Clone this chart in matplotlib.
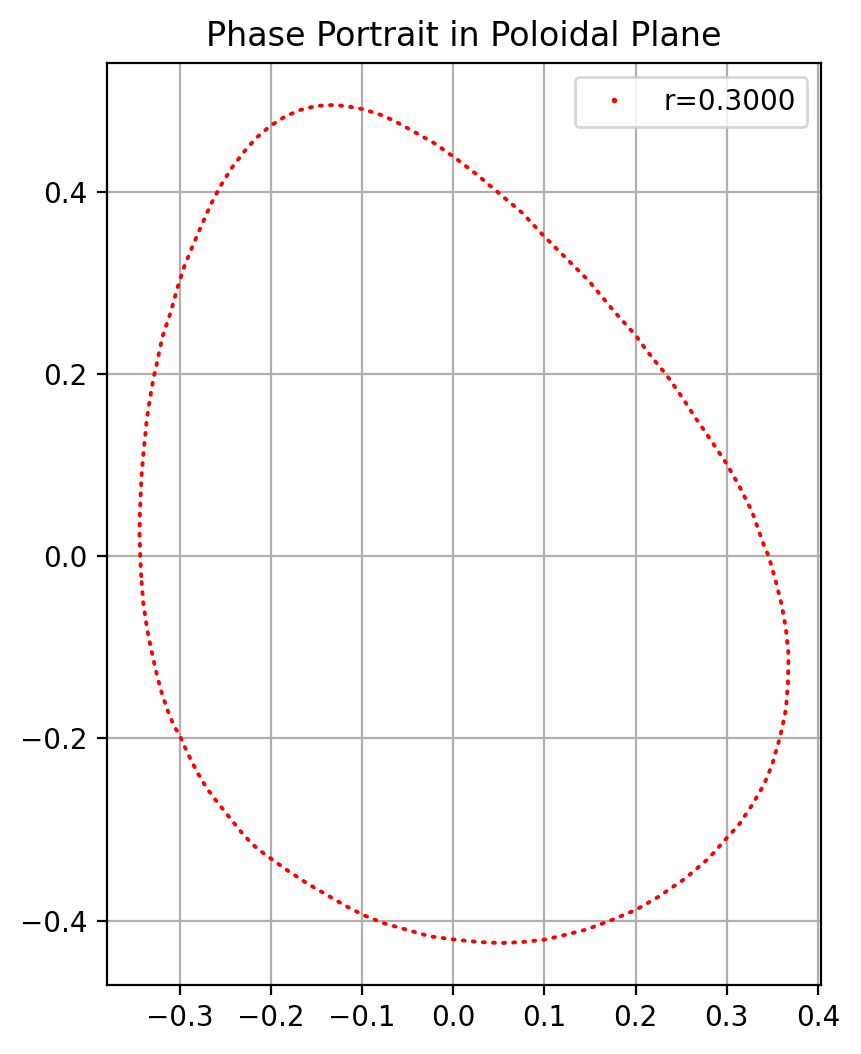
import numpy as np
import matplotlib
matplotlib.use("Agg")
import matplotlib.pyplot as plt
from matplotlib.lines import Line2D

# orbit points, going clockwise from the far left
x_left = [-0.3423, -0.3431, -0.3442, -0.3438, -0.3431, -0.3420, -0.3395, -0.3376,
          -0.3363, -0.3341, -0.3315, -0.3290, -0.3253, -0.3224, -0.3188, -0.3102,
          -0.3030, -0.2950, -0.2860, -0.2770, -0.2664, -0.2554, -0.2430, -0.2300,
          -0.2160, -0.2006, -0.1842, -0.1677, -0.1500, -0.1300, -0.1166, -0.1000]
y_left = [-0.0219, -0.0055, 0.0256, 0.0475, 0.0621, 0.0877, 0.1169, 0.1352,
          0.1494, 0.1640, 0.1800, 0.1947, 0.2104, 0.2250, 0.2414, 0.2667,
          0.2930, 0.3180, 0.3400, 0.3610, 0.3850, 0.4060, 0.4260, 0.4430,
          0.4590, 0.4720, 0.4825, 0.4895, 0.4940, 0.4950, 0.4935, 0.4906]

x_right = [-0.0800, -0.0656, -0.0437, -0.0200, 0.0036, 0.0273, 0.0504, 0.0759,
           0.0996, 0.1234, 0.1489, 0.1745, 0.2004, 0.2113, 0.2222, 0.2342,
           0.2451, 0.2550, 0.2648, 0.2732, 0.2912, 0.2996, 0.3131, 0.3277,
           0.3405, 0.3460, 0.3533, 0.3606, 0.3650, 0.3679, 0.3672, 0.3650,
           0.3606, 0.3569, 0.3496, 0.3405, 0.3277, 0.3131, 0.2996, 0.2803,
           0.2547, 0.2255, 0.2004, 0.1745, 0.1453, 0.1161, 0.0996, 0.0759,
           0.0522]
y_right = [0.4844, 0.4780, 0.4660, 0.4526, 0.4358, 0.4175, 0.3980, 0.3764,
           0.3510, 0.3273, 0.3018, 0.2709, 0.2418, 0.2268, 0.2130, 0.1984,
           0.1830, 0.1684, 0.1530, 0.1410, 0.1145, 0.1018, 0.0782, 0.0491,
           0.0127, 0.0000, -0.0255, -0.0546, -0.0800, -0.1090, -0.1384, -0.1676,
           -0.1894, -0.2040, -0.2295, -0.2514, -0.2732, -0.2951, -0.3097, -0.3315,
           -0.3534, -0.3734, -0.3880, -0.3989, -0.4098, -0.4171, -0.4208, -0.4233,
           -0.4244]

x_bottom = [0.0285, 0.0029, -0.0256, -0.0511, -0.0766, -0.0993, -0.1168, -0.1387,
            -0.1606, -0.1825, -0.2004, -0.2153, -0.2299, -0.2445, -0.2591, -0.2701,
            -0.2810, -0.2920, -0.3000, -0.3066, -0.3139, -0.3212, -0.3266, -0.3314,
            -0.3358, -0.3401, -0.3423]
y_bottom = [-0.4233, -0.4208, -0.4171, -0.4098, -0.4026, -0.3934, -0.3843, -0.3716,
            -0.3588, -0.3443, -0.3315, -0.3206, -0.3060, -0.2878, -0.2696, -0.2550,
            -0.2368, -0.2149, -0.1967, -0.1858, -0.1676, -0.1457, -0.1239, -0.1020,
            -0.0801, -0.0510, -0.0219]

r_label = 'r=0.3000'

x = np.array(x_left + x_right + x_bottom)
y = np.array(y_left + y_right + y_bottom)

fig = plt.figure(figsize=(4.305, 5.27), dpi=200)
ax = fig.add_axes([0.1243, 0.0645, 0.8293, 0.8767])

# dense orbit dots drawn as a dotted line
ax.plot(x, y, color='red', linewidth=1.4, linestyle=(0, (0.5, 2.1)),
        dash_capstyle='round', dash_joinstyle='round')
ax.set_aspect('equal')
ax.set_title('Phase Portrait in Poloidal Plane')
ax.grid(True)

handle = Line2D([], [], color='red', marker='o', linestyle='', markersize=1.0)
ax.legend([handle], [r_label], loc='upper right')

fig.savefig('out.png', dpi=200)
